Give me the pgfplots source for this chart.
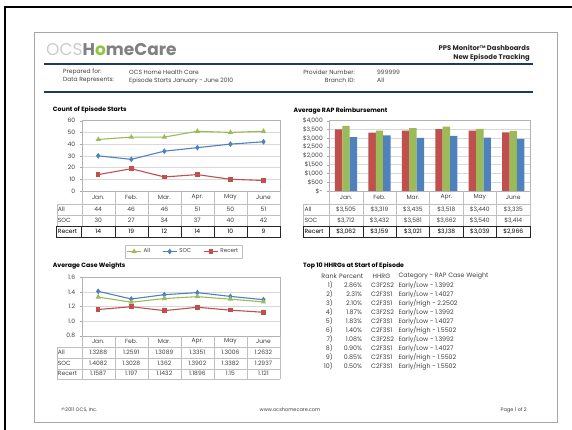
\documentclass[border=0pt]{standalone}
\usepackage{pgfplots}
\pgfplotsset{compat=1.18}
\usepackage{fontspec}
\setmainfont{Poppins}
\definecolor{cAll}{HTML}{9BBB59}
\definecolor{cSOC}{HTML}{4F81BD}
\definecolor{cRec}{HTML}{C0504D}
\definecolor{txt}{HTML}{404040}
\definecolor{gridc}{HTML}{D9D9D9}
\definecolor{tblc}{HTML}{BFBFBF}
\definecolor{navy}{HTML}{1F3A60}
\definecolor{logog}{HTML}{8DC63F}
\definecolor{logogray}{HTML}{808080}
\pgfplotsset{
  dash/.style={scale only axis, xmin=-0.5, xmax=5.5, xtick=\empty,
    ymajorgrids, grid style={gridc, line width=0.4pt},
    axis line style={gray!60, line width=0.4pt},
    ytick pos=left, tick align=outside, major tick length=2pt,
    tick style={gray!70},
    /pgf/number format/assume math mode=true,
    yticklabel style={font=\fontsize{6}{6.5}\selectfont, text=txt, xshift=-1pt},
    clip=false},
  ln/.style={line width=1.1pt, mark size=2pt},
}
\begin{document}
\begin{tikzpicture}[x=1pt,y=1pt, font=\fontsize{6}{7}\selectfont, every node/.style={text=txt}]
\path[use as bounding box, fill=white] (0,0) rectangle (572,-430);
% frames
\draw[black, line width=1.6pt] (5,-430) -- (5,-7) -- (572,-7);
\draw[gray!70, line width=0.8pt] (34,-32) rectangle (557,-422);

% header
\node[anchor=west, inner sep=0, font=\fontsize{17}{18}\selectfont] at (46,-50)
  {\textcolor{gray!40}{OCS}\textcolor{logogray}{\bfseries H}\textcolor{logog}{\bfseries o}\textcolor{logogray}{\bfseries meCare}};
\node[anchor=east, inner sep=0, font=\fontsize{6.8}{7.5}\selectfont\bfseries, text=black!85] at (530,-48)
  {PPS Monitor{\fontsize{3.8}{4}\selectfont\raisebox{2.2pt}{TM}} Dashboards};
\node[anchor=east, inner sep=0, font=\fontsize{6.8}{7.5}\selectfont\bfseries, text=black!85] at (530,-58) {New Episode Tracking};
\draw[navy, line width=1.6pt] (44,-64) -- (533,-64);
\node[anchor=west, inner sep=0] at (63,-72) {Prepared for:};
\node[anchor=west, inner sep=0] at (63,-80.5) {Data Represents:};
\node[anchor=west, inner sep=0] at (129,-72) {OCS Home Health Care};
\node[anchor=west, inner sep=0] at (129,-80.5) {Episode Starts January - June 2010};
\node[anchor=east, inner sep=0] at (355,-72) {Provider Number:};
\node[anchor=east, inner sep=0] at (355,-80.5) {Branch ID:};
\node[anchor=west, inner sep=0] at (377,-72) {999999};
\node[anchor=west, inner sep=0] at (377,-80.5) {All};
\draw[navy, line width=1.6pt] (44,-92) -- (533,-92);

% titles
\node[anchor=west, inner sep=0, font=\fontsize{6.2}{7}\selectfont\bfseries, text=black] at (52.7,-110) {Count of Episode Starts};
\node[anchor=west, inner sep=0, font=\fontsize{6.2}{7}\selectfont\bfseries, text=black] at (293.3,-111) {Average RAP Reimbursement};
\node[anchor=west, inner sep=0, font=\fontsize{6.2}{7}\selectfont\bfseries, text=black] at (52.7,-265.7) {Average Case Weights};
\node[anchor=west, inner sep=0, font=\fontsize{6.2}{7}\selectfont\bfseries, text=black] at (303,-265.7) {Top 10 HHRGs at Start of Episode};

% ---------- Count of Episode Starts ----------
\begin{axis}[dash, at={(81.7pt,-191pt)}, anchor=south west, width=198.3pt, height=70.3pt,
  ymin=0, ymax=60, ytick={0,10,...,60},
  legend style={at={(axis description cs:0.513,-0.768)}, anchor=north, legend columns=3,
    draw=gray!50, font=\fontsize{5.6}{6}\selectfont, text=txt, inner sep=1.5pt,
    /tikz/every even column/.append style={column sep=10pt}},
  legend image code/.code={\draw[#1] (0pt,0pt) -- (14pt,0pt); \draw[#1, mark repeat=2, mark phase=2] plot coordinates {(0pt,0pt) (7pt,0pt) (14pt,0pt)};}]
\addplot[ln, cAll, mark=triangle*] coordinates {(0,44)(1,46)(2,46)(3,51)(4,50)(5,51)};
\addplot[ln, cSOC, mark=diamond*] coordinates {(0,30)(1,27)(2,34)(3,37)(4,40)(5,42)};
\addplot[ln, cRec, mark=square*, mark size=1.7pt] coordinates {(0,14)(1,19)(2,12)(3,14)(4,10)(5,9)};
\legend{All,SOC,Recert}
\end{axis}
% table
\foreach \x in {81.7,114.75,147.8,180.85,213.9,246.95,280} \draw[tblc, line width=0.4pt] (\x,-191) -- (\x,-226);
\draw[tblc, line width=0.4pt] (56.7,-204) -- (280,-204) (56.7,-215) -- (280,-215) (56.7,-204) -- (56.7,-226);
\draw[black!85, line width=0.5pt] (56.7,-226) rectangle (280,-237);
\foreach \x in {81.7,114.75,147.8,180.85,213.9,246.95} \draw[black!85, line width=0.5pt] (\x,-226) -- (\x,-237);
\foreach \m [count=\i from 0] in {Jan.,Feb.,Mar.,Apr.,May,June} \node at ({98.2+33.05*\i},-197.5) {\m};
\node[anchor=west, inner sep=1pt] at (56.7,-209.5) {All};
\node[anchor=west, inner sep=1pt] at (56.7,-220.5) {SOC};
\node[anchor=west, inner sep=1pt, text=black] at (56.7,-231.5) {Recert};
\foreach \v [count=\i from 0] in {44,46,46,51,50,51} \node at ({98.2+33.05*\i},-209.5) {\v};
\foreach \v [count=\i from 0] in {30,27,34,37,40,42} \node at ({98.2+33.05*\i},-220.5) {\v};
\foreach \v [count=\i from 0] in {14,19,12,14,10,9} \node[text=black] at ({98.2+33.05*\i},-231.5) {\v};

% ---------- Average RAP Reimbursement ----------
\begin{axis}[dash, at={(329.3pt,-191pt)}, anchor=south west, width=200.7pt, height=70.3pt,
  ymin=0, ymax=4000, ytick={0,500,...,4000},
  yticklabels={{\$-},{\$500},{\$1,000},{\$1,500},{\$2,000},{\$2,500},{\$3,000},{\$3,500},{\$4,000}},
  ybar=0pt, bar width=7.4pt]
\addplot[fill=cRec, draw=none] coordinates {(0,3505)(1,3319)(2,3435)(3,3518)(4,3440)(5,3335)};
\addplot[fill=cAll, draw=none] coordinates {(0,3712)(1,3432)(2,3581)(3,3662)(4,3540)(5,3414)};
\addplot[fill=cSOC, draw=none] coordinates {(0,3062)(1,3159)(2,3021)(3,3138)(4,3039)(5,2966)};
\end{axis}
\foreach \x in {329.3,362.75,396.2,429.65,463.1,496.55,530} \draw[tblc, line width=0.4pt] (\x,-191) -- (\x,-226);
\draw[tblc, line width=0.4pt] (303.3,-204) -- (530,-204) (303.3,-215) -- (530,-215) (303.3,-204) -- (303.3,-226);
\draw[black!85, line width=0.5pt] (303.3,-226) rectangle (530,-237);
\foreach \x in {329.3,362.75,396.2,429.65,463.1,496.55} \draw[black!85, line width=0.5pt] (\x,-226) -- (\x,-237);
\foreach \m [count=\i from 0] in {Jan.,Feb.,Mar.,Apr.,May,June} \node at ({346+33.45*\i},-197.5) {\m};
\node[anchor=west, inner sep=1pt] at (303.3,-209.5) {All};
\node[anchor=west, inner sep=1pt] at (303.3,-220.5) {SOC};
\node[anchor=west, inner sep=1pt, text=black] at (303.3,-231.5) {Recert};
\foreach \v [count=\i from 0] in {{3,505},{3,319},{3,435},{3,518},{3,440},{3,335}} \node at ({346+33.45*\i},-209.5) {\$\v};
\foreach \v [count=\i from 0] in {{3,712},{3,432},{3,581},{3,662},{3,540},{3,414}} \node at ({346+33.45*\i},-220.5) {\$\v};
\foreach \v [count=\i from 0] in {{3,062},{3,159},{3,021},{3,138},{3,039},{2,966}} \node[text=black] at ({346+33.45*\i},-231.5) {\$\v};

% ---------- Average Case Weights ----------
\begin{axis}[dash, at={(81.7pt,-335.7pt)}, anchor=south west, width=198.3pt, height=58.4pt,
  ymin=0.8, ymax=1.6, ytick={0.8,1.0,1.2,1.4,1.6},
  yticklabel style={/pgf/number format/.cd, fixed, fixed zerofill, precision=1}]
\addplot[ln, cSOC, mark=diamond*] coordinates {(0,1.4082)(1,1.3028)(2,1.362)(3,1.3902)(4,1.3382)(5,1.2937)};
\addplot[ln, cAll, mark=triangle*] coordinates {(0,1.3288)(1,1.2591)(2,1.3089)(3,1.3351)(4,1.3006)(5,1.2632)};
\addplot[ln, cRec, mark=square*, mark size=1.7pt] coordinates {(0,1.1587)(1,1.197)(2,1.1432)(3,1.1896)(4,1.15)(5,1.121)};
\end{axis}
\foreach \x in {81.7,114.75,147.8,180.85,213.9,246.95,280} \draw[tblc, line width=0.4pt] (\x,-335.7) -- (\x,-379);
\draw[tblc, line width=0.4pt] (56.7,-347.3) -- (280,-347.3) (56.7,-358) -- (280,-358) (56.7,-368.7) -- (280,-368.7) (56.7,-379) -- (280,-379) (56.7,-347.3) -- (56.7,-379);
\foreach \m [count=\i from 0] in {Jan.,Feb.,Mar.,Apr.,May,June} \node at ({98.2+33.05*\i},-341.5) {\m};
\node[anchor=west, inner sep=1pt] at (56.7,-352.7) {All};
\node[anchor=west, inner sep=1pt] at (56.7,-363.3) {SOC};
\node[anchor=west, inner sep=1pt] at (56.7,-373.8) {Recert};
\foreach \v [count=\i from 0] in {1.3288,1.2591,1.3089,1.3351,1.3006,1.2632} \node at ({98.2+33.05*\i},-352.7) {\v};
\foreach \v [count=\i from 0] in {1.4082,1.3028,1.362,1.3902,1.3382,1.2937} \node at ({98.2+33.05*\i},-363.3) {\v};
\foreach \v [count=\i from 0] in {1.1587,1.197,1.1432,1.1896,1.15,1.121} \node at ({98.2+33.05*\i},-373.8) {\v};

% ---------- Top 10 ----------
\begin{scope}[font=\fontsize{6.3}{7}\selectfont]
\node[anchor=east, inner sep=0] at (337,-276) {Rank};
\node[anchor=west, inner sep=0] at (339,-276) {Percent};
\node[anchor=west, inner sep=0] at (372.5,-276) {HHRG};
\node[anchor=west, inner sep=0] at (398.3,-276) {Category - RAP Case Weight};
\foreach \p/\h/\t/\w [count=\i] in {2.86/C3F2S2/Low/1.3992, 2.31/C2F3S1/Low/1.4027, 2.10/C2F3S1/High/2.2502,
  1.87/C3F2S2/Low/1.3992, 1.83/C2F3S1/Low/1.4027, 1.40/C2F3S1/High/1.5502, 1.08/C3F2S2/Low/1.3992,
  0.90/C2F3S1/Low/1.4027, 0.85/C2F3S1/High/1.5502, 0.50/C2F3S1/High/1.5502} {
  \node[anchor=east, inner sep=0] at (333,{-285-9.07*(\i-1)}) {\i)};
  \node[anchor=east, inner sep=0] at (362,{-285-9.07*(\i-1)}) {\p\%};
  \node[anchor=west, inner sep=0] at (371,{-285-9.07*(\i-1)}) {\h};
  \node[anchor=west, inner sep=0] at (398.3,{-285-9.07*(\i-1)}) {Early/\t\ - \w};
}
\end{scope}

% footer
\node[anchor=west, inner sep=0, font=\fontsize{5}{5.5}\selectfont] at (61,-410) {\textcopyright 2011 OCS, Inc.};
\node[inner sep=0, font=\fontsize{5}{5.5}\selectfont] at (290,-410) {www.ocshomecare.com};
\node[anchor=east, inner sep=0, font=\fontsize{5}{5.5}\selectfont] at (527,-410) {Page 1 of 2};
\end{tikzpicture}
\end{document}
